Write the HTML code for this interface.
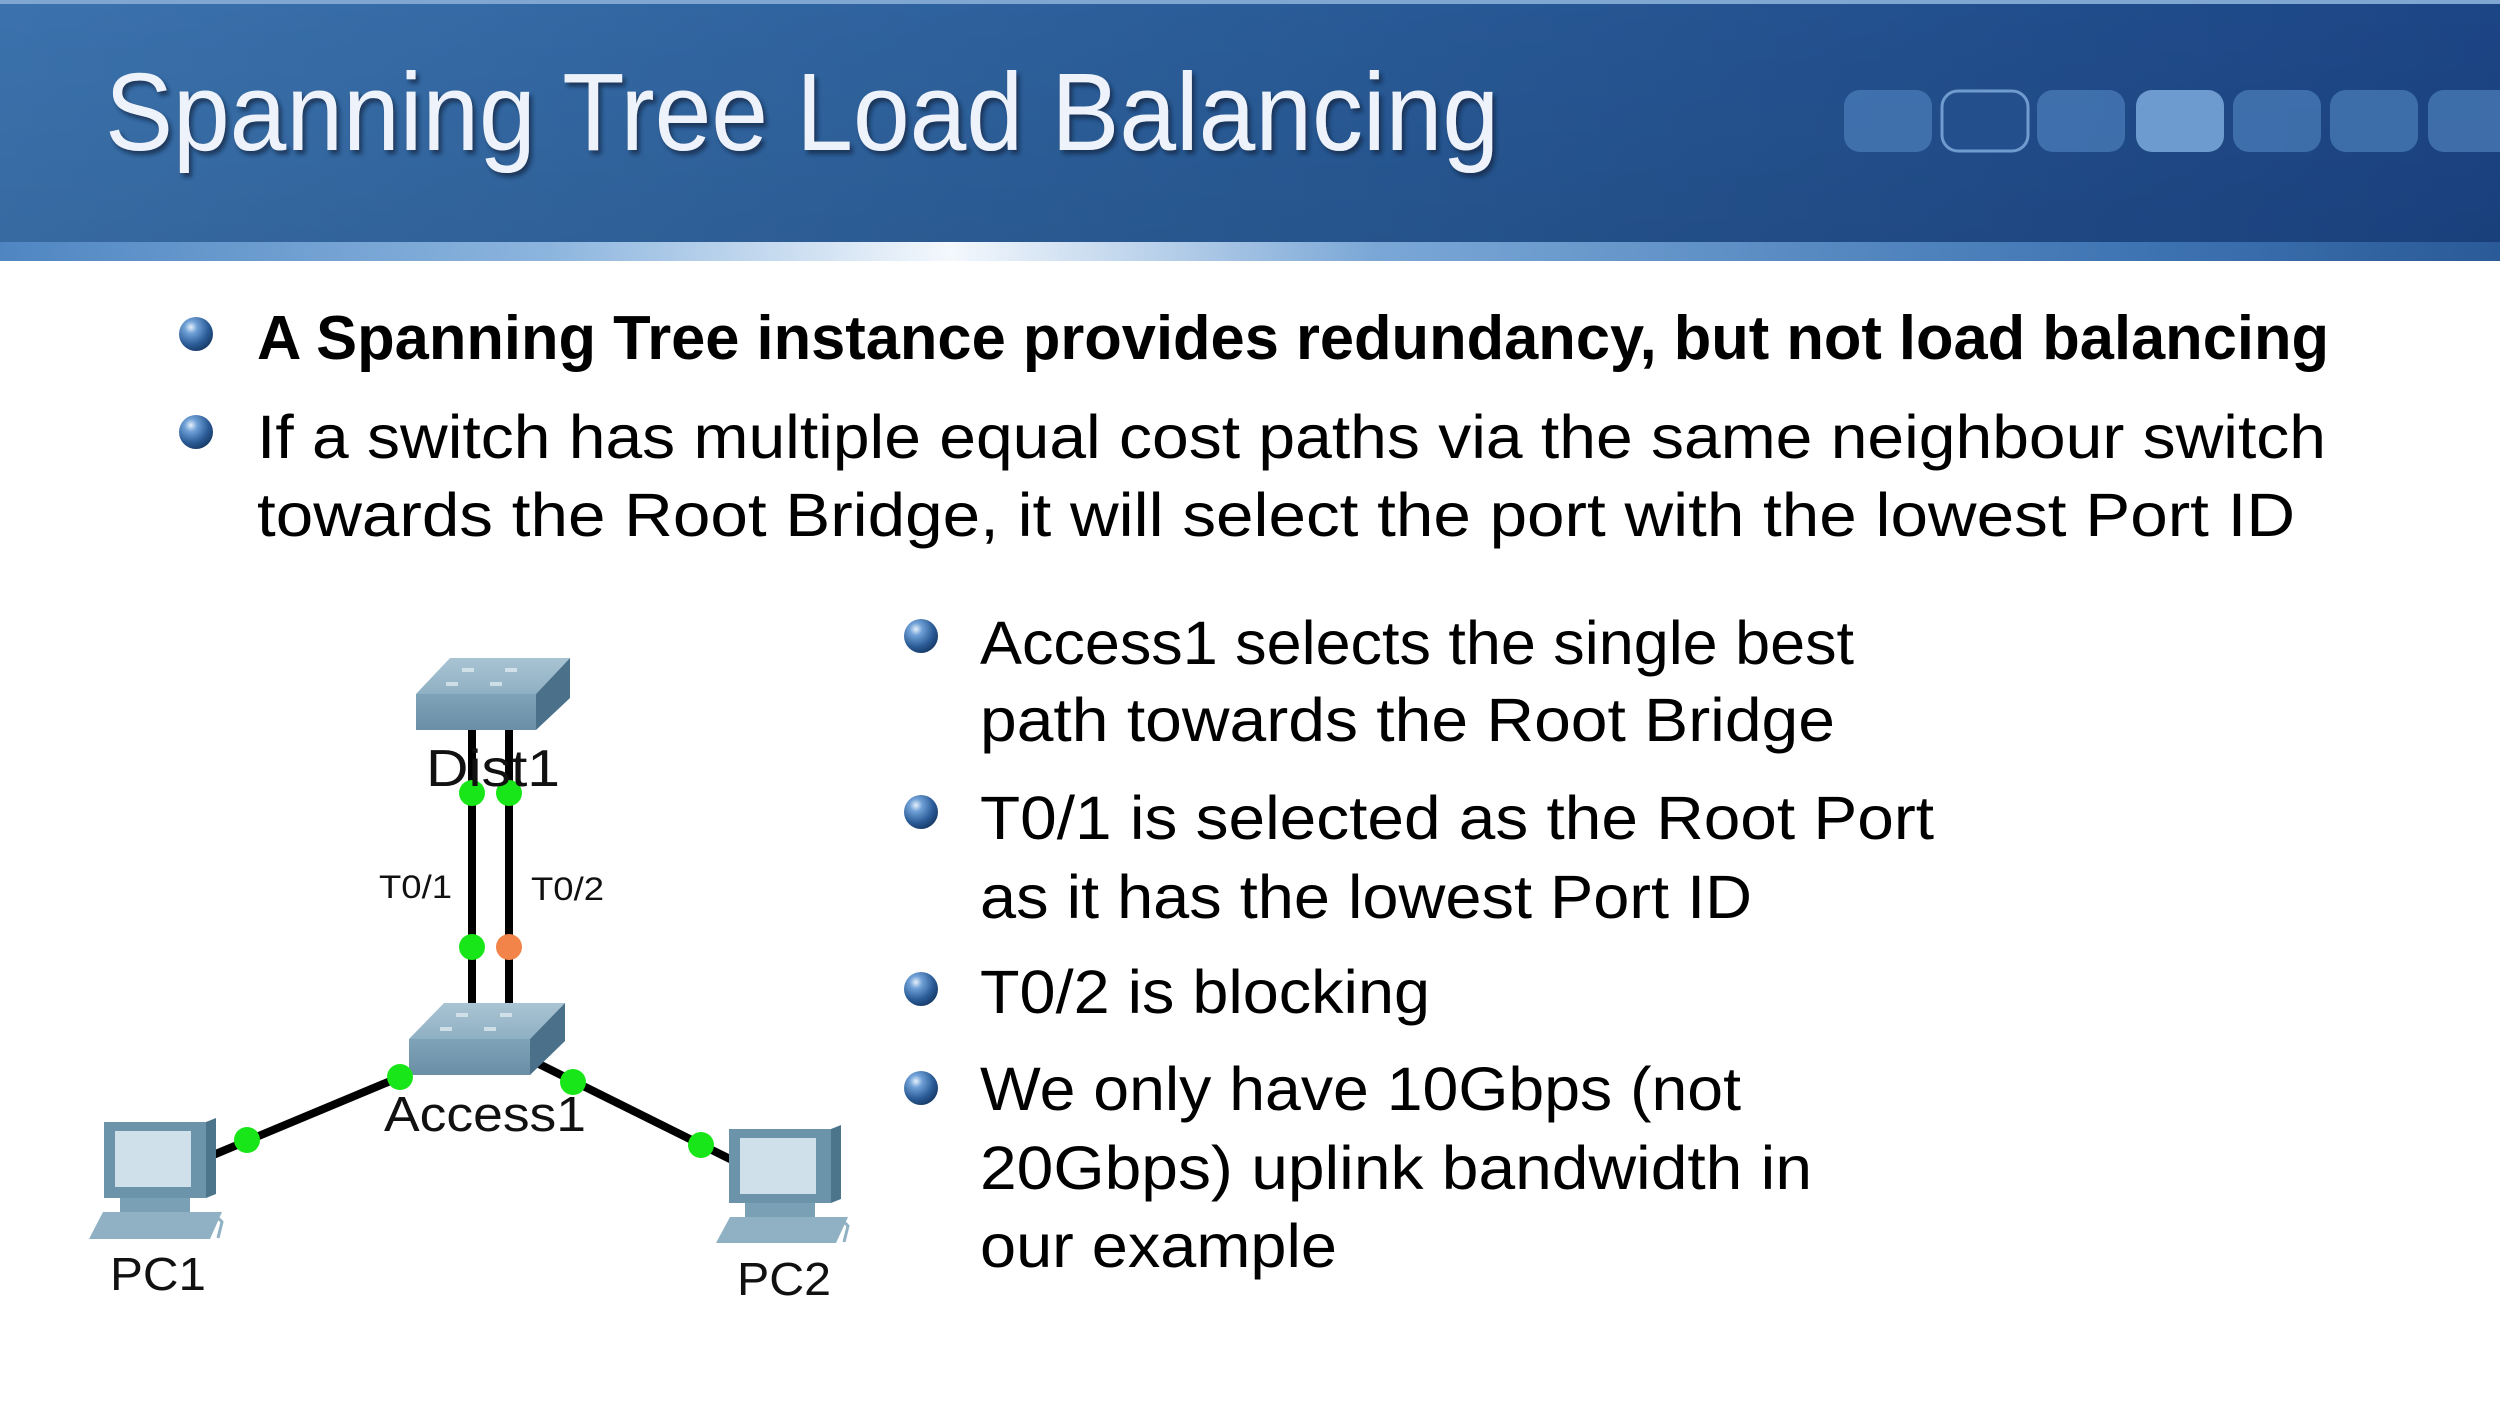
<!DOCTYPE html>
<html><head><meta charset="utf-8"><style>
html,body{margin:0;padding:0;background:#fff;}
svg{display:block}
</style></head><body>
<svg width="2500" height="1406" viewBox="0 0 2500 1406" xmlns="http://www.w3.org/2000/svg">
<defs>
<linearGradient id="hdr" x1="0" y1="0" x2="1" y2="0">
<stop offset="0" stop-color="#3b72ad"/><stop offset="0.5" stop-color="#2a5c98"/><stop offset="1" stop-color="#1c4585"/>
</linearGradient>
<linearGradient id="hdrv" x1="0" y1="0" x2="0" y2="1">
<stop offset="0" stop-color="#000" stop-opacity="0"/><stop offset="1" stop-color="#000" stop-opacity="0.08"/>
</linearGradient>
<linearGradient id="strip" x1="0" y1="0" x2="1" y2="0">
<stop offset="0" stop-color="#4f86c2"/><stop offset="0.22" stop-color="#8cb5de"/><stop offset="0.38" stop-color="#f4f8fd"/><stop offset="0.55" stop-color="#7aa7d6"/><stop offset="0.85" stop-color="#3f75b3"/><stop offset="1" stop-color="#2b5a98"/>
</linearGradient>
<radialGradient id="ball" cx="0.35" cy="0.3" r="0.75">
<stop offset="0" stop-color="#e6f0fb"/><stop offset="0.25" stop-color="#6fa0d6"/><stop offset="0.7" stop-color="#2a5a95"/><stop offset="1" stop-color="#173a66"/>
</radialGradient>
<linearGradient id="top" x1="0" y1="0" x2="0" y2="1"><stop offset="0" stop-color="#a9c4d3"/><stop offset="1" stop-color="#8fb0c3"/></linearGradient>
<linearGradient id="front" x1="0" y1="0" x2="0" y2="1"><stop offset="0" stop-color="#7fa3b8"/><stop offset="1" stop-color="#6a8ea5"/></linearGradient>
<filter id="sh" x="-5%" y="-20%" width="110%" height="140%"><feDropShadow dx="3" dy="4" stdDeviation="2" flood-color="#0a2040" flood-opacity="0.7"/></filter>
</defs>

<rect x="0" y="0" width="2500" height="261" fill="url(#hdr)"/>
<rect x="0" y="0" width="2500" height="261" fill="url(#hdrv)"/>
<rect x="0" y="0" width="2500" height="4" fill="#7fa7d2"/>
<rect x="0" y="242" width="2500" height="19" fill="url(#strip)"/>
<g fill="#4a7cb8" opacity="0.75">
<rect x="1844" y="90" width="88" height="62" rx="16"/>
<rect x="2037" y="90" width="88" height="62" rx="16"/>
<rect x="2233" y="90" width="88" height="62" rx="16"/>
<rect x="2330" y="90" width="88" height="62" rx="16"/>
<rect x="2428" y="90" width="88" height="62" rx="16"/>
</g>
<rect x="2136" y="90" width="88" height="62" rx="16" fill="#6d9bd0"/>
<rect x="1942" y="91" width="86" height="60" rx="16" fill="#234f8c" stroke="#6f9bcf" stroke-width="3"/>
<text x="105" y="150" font-family="Liberation Sans, sans-serif" font-size="110" fill="#eef3fb" textLength="1394" lengthAdjust="spacingAndGlyphs" filter="url(#sh)">Spanning Tree Load Balancing</text>

<g>
<circle cx="196" cy="334" r="17" fill="url(#ball)"/>
<circle cx="196" cy="432" r="17" fill="url(#ball)"/>
<circle cx="921" cy="636" r="17" fill="url(#ball)"/>
<circle cx="921" cy="812" r="17" fill="url(#ball)"/>
<circle cx="921" cy="989" r="17" fill="url(#ball)"/>
<circle cx="921" cy="1088" r="17" fill="url(#ball)"/>
</g>
<g font-family="Liberation Sans, sans-serif" font-size="61" fill="#000">
<text x="257" y="359" font-weight="bold" font-size="62" textLength="2072" lengthAdjust="spacingAndGlyphs">A Spanning Tree instance provides redundancy, but not load balancing</text>
<text x="257" y="458" textLength="2069" lengthAdjust="spacingAndGlyphs">If a switch has multiple equal cost paths   via the same neighbour switch</text>
<text x="257" y="536" textLength="2038" lengthAdjust="spacingAndGlyphs">towards the Root Bridge, it will select the   port with the lowest Port ID</text>
<text x="980" y="664" textLength="874" lengthAdjust="spacingAndGlyphs">Access1 selects the single best</text>
<text x="980" y="741" textLength="855" lengthAdjust="spacingAndGlyphs">path towards the Root Bridge</text>
<text x="980" y="839" textLength="954" lengthAdjust="spacingAndGlyphs">T0/1 is selected as the Root  Port</text>
<text x="980" y="918" textLength="772" lengthAdjust="spacingAndGlyphs">as it has the lowest Port ID</text>
<text x="980" y="1013" textLength="450" lengthAdjust="spacingAndGlyphs">T0/2 is blocking</text>
<text x="980" y="1110" textLength="761" lengthAdjust="spacingAndGlyphs">We only have 10Gbps (not</text>
<text x="980" y="1189" textLength="832" lengthAdjust="spacingAndGlyphs">20Gbps) uplink bandwidth in</text>
<text x="980" y="1267" textLength="357" lengthAdjust="spacingAndGlyphs">our example</text>
</g>

<g stroke="#000" stroke-width="8" stroke-linecap="butt">
<line x1="472" y1="728" x2="472" y2="1005"/>
<line x1="509" y1="728" x2="509" y2="1005"/>
<line x1="206" y1="1158" x2="400" y2="1077"/>
<line x1="539" y1="1064" x2="732" y2="1160"/>
</g>

<g>
<polygon points="416,694 450,658 570,658 536,694" fill="url(#top)"/>
<rect x="416" y="694" width="120" height="36" fill="url(#front)"/>
<polygon points="536,694 570,658 570,698 536,730" fill="#4a7189"/>
<g fill="#dde9f0" opacity="0.8"><rect x="462" y="668" width="12" height="4"/><rect x="505" y="668" width="12" height="4"/><rect x="446" y="682" width="12" height="4"/><rect x="490" y="682" width="12" height="4"/></g>
</g>
<g>
<polygon points="409,1039 444,1003 565,1003 530,1039" fill="url(#top)"/>
<rect x="409" y="1039" width="121" height="36" fill="url(#front)"/>
<polygon points="530,1039 565,1003 565,1041 530,1075" fill="#4a7189"/>
<g fill="#dde9f0" opacity="0.8"><rect x="456" y="1013" width="12" height="4"/><rect x="500" y="1013" width="12" height="4"/><rect x="440" y="1027" width="12" height="4"/><rect x="484" y="1027" width="12" height="4"/></g>
</g>

<g>
<rect x="104" y="1122" width="102" height="76" fill="#6b94ab"/>
<rect x="115" y="1131" width="76" height="56" fill="#cfe0ea"/>
<polygon points="206,1122 216,1118 216,1194 206,1198" fill="#4c758c"/>
<rect x="120" y="1198" width="70" height="14" fill="#7aa0b5"/>
<polygon points="89,1239 103,1212 222,1212 210,1239" fill="#8fb1c3"/>
<path d="M200 1218 q14 -6 22 4 l-4 16" stroke="#8fb1c3" stroke-width="3" fill="none"/>
</g>
<g>
<rect x="729" y="1129" width="102" height="74" fill="#6b94ab"/>
<rect x="740" y="1138" width="76" height="56" fill="#cfe0ea"/>
<polygon points="831,1129 841,1125 841,1199 831,1203" fill="#4c758c"/>
<rect x="745" y="1203" width="70" height="14" fill="#7aa0b5"/>
<polygon points="716,1243 730,1217 848,1217 836,1243" fill="#8fb1c3"/>
<path d="M826 1222 q14 -6 22 4 l-4 16" stroke="#8fb1c3" stroke-width="3" fill="none"/>
</g>

<g fill="#19e619">
<circle cx="472" cy="793" r="13"/>
<circle cx="509" cy="793" r="13"/>
<circle cx="472" cy="947" r="13"/>
<circle cx="400" cy="1077" r="13"/>
<circle cx="247" cy="1140" r="13"/>
<circle cx="573" cy="1082" r="13"/>
<circle cx="701" cy="1145" r="13"/>
</g>
<circle cx="509" cy="947" r="13" fill="#f2844a"/>

<g font-family="Liberation Sans, sans-serif" fill="#111">
<text x="426" y="786" font-size="52" textLength="134" lengthAdjust="spacingAndGlyphs">Dist1</text>
<text x="379" y="898" font-size="32" textLength="73" lengthAdjust="spacingAndGlyphs">T0/1</text>
<text x="531" y="900" font-size="32" textLength="73" lengthAdjust="spacingAndGlyphs">T0/2</text>
<text x="384" y="1131" font-size="49" textLength="202" lengthAdjust="spacingAndGlyphs">Access1</text>
<text x="110" y="1290" font-size="46" textLength="96" lengthAdjust="spacingAndGlyphs">PC1</text>
<text x="737" y="1295" font-size="46" textLength="94" lengthAdjust="spacingAndGlyphs">PC2</text>
</g>
</svg>
</body></html>
